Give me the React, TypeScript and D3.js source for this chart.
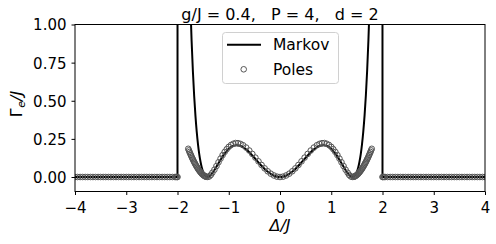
import React, { useEffect, useRef } from "react";
import * as d3 from "d3";

// Markov rate
const markovDelta = [
  -4, -2, -1.99, -1.9, -1.8, -1.75, -1.725, -1.7, -1.675, -1.65, -1.625, -1.6,
  -1.575, -1.55, -1.525, -1.5, -1.475, -1.45, -1.414, -1.375, -1.35, -1.3, -1.25, -1.2,
  -1.15, -1.1, -1.05, -1.0, -0.95, -0.9, -0.85, -0.8, -0.75, -0.7, -0.65, -0.6,
  -0.55, -0.5, -0.45, -0.4, -0.35, -0.3, -0.25, -0.2, -0.15, -0.1, -0.05, 0,
  0.05, 0.1, 0.15, 0.2, 0.25, 0.3, 0.35, 0.4, 0.45, 0.5, 0.55, 0.6,
  0.65, 0.7, 0.75, 0.8, 0.85, 0.9, 0.95, 1.0, 1.05, 1.1, 1.15, 1.2,
  1.25, 1.3, 1.35, 1.375, 1.414, 1.45, 1.475, 1.5, 1.525, 1.55, 1.575, 1.6,
  1.625, 1.65, 1.675, 1.7, 1.725, 1.75, 1.8, 1.9, 1.99, 2, 4,
];
const markovGamma = [
  0, 0, 24.37, 4.795, 1.829, 1.143, 0.8955, 0.6953, 0.5332, 0.4024, 0.2974, 0.2141,
  0.1488, 0.0985, 0.061, 0.034, 0.0159, 0.0051, 0, 0.005, 0.0125, 0.0342, 0.0613, 0.0903,
  0.1187, 0.1447, 0.167, 0.1848, 0.1977, 0.2055, 0.2084, 0.2067, 0.2006, 0.1908, 0.1779, 0.1624,
  0.1451, 0.1265, 0.1074, 0.0885, 0.0702, 0.0531, 0.0378, 0.0247, 0.0141, 0.0063, 0.0016, 0,
  0.0016, 0.0063, 0.0141, 0.0247, 0.0378, 0.0531, 0.0702, 0.0885, 0.1074, 0.1265, 0.1451, 0.1624,
  0.1779, 0.1908, 0.2006, 0.2067, 0.2084, 0.2055, 0.1977, 0.1848, 0.167, 0.1447, 0.1187, 0.0903,
  0.0613, 0.0342, 0.0125, 0.005, 0, 0.0051, 0.0159, 0.034, 0.061, 0.0985, 0.1488, 0.2141,
  0.2974, 0.4024, 0.5332, 0.6953, 0.8955, 1.143, 1.829, 4.795, 24.37, 0, 0,
];

// pole estimates, grey open circles
const polesDelta = [
  -4, -3.95, -3.9, -3.85, -3.8, -3.75, -3.7, -3.65, -3.6, -3.55, -3.5, -3.45, -3.4, -3.35, -3.3,
  -3.25, -3.2, -3.15, -3.1, -3.05, -3, -2.95, -2.9, -2.85, -2.8, -2.75, -2.7, -2.65, -2.6, -2.55,
  -2.5, -2.45, -2.4, -2.35, -2.3, -2.25, -2.2, -2.15, -2.1, -2.05, -2.03, -2.01, -2,
  -1.79, -1.7775, -1.765, -1.7525, -1.74, -1.7275, -1.715, -1.7025, -1.69, -1.6775, -1.665,
  -1.6525, -1.64, -1.6275, -1.615, -1.6025, -1.59, -1.5775, -1.565, -1.5525, -1.54, -1.5275,
  -1.515, -1.5025, -1.49, -1.4775, -1.465, -1.4525, -1.44,
  -1.41, -1.38, -1.35, -1.32, -1.28, -1.24, -1.2, -1.16, -1.12, -1.08,
  -1.04, -1.0, -0.955, -0.91, -0.865, -0.82, -0.77, -0.72, -0.66, -0.6, -0.54, -0.48, -0.42,
  -0.36, -0.3, -0.24, -0.18, -0.12, -0.06, 0,
  0.06, 0.12, 0.18, 0.24, 0.3, 0.36, 0.42, 0.48, 0.54, 0.6, 0.66, 0.72, 0.77, 0.82, 0.865,
  0.91, 0.955, 1.0, 1.04, 1.08, 1.12, 1.16, 1.2, 1.24, 1.28, 1.32, 1.35, 1.38, 1.41,
  1.44, 1.4525, 1.465, 1.4775, 1.49, 1.5025, 1.515, 1.5275, 1.54, 1.5525, 1.565, 1.5775,
  1.59, 1.6025, 1.615, 1.6275, 1.64, 1.6525, 1.665, 1.6775, 1.69, 1.7025, 1.715, 1.7275,
  1.74, 1.7525, 1.765, 1.7775, 1.79,
  2, 2.01, 2.03, 2.05, 2.1, 2.15, 2.2, 2.25, 2.3, 2.35, 2.4, 2.45, 2.5, 2.55, 2.6, 2.65, 2.7,
  2.75, 2.8, 2.85, 2.9, 2.95, 3, 3.05, 3.1, 3.15, 3.2, 3.25, 3.3, 3.35, 3.4, 3.45, 3.5, 3.55,
  3.6, 3.65, 3.7, 3.75, 3.8, 3.85, 3.9, 3.95, 4,
];
const polesGamma = [
  0, 0, 0, 0, 0, 0, 0, 0, 0, 0, 0, 0, 0, 0, 0,
  0, 0, 0, 0, 0, 0, 0, 0, 0, 0, 0, 0, 0, 0, 0,
  0, 0, 0, 0, 0, 0, 0, 0, 0, 0, 0, 0, 0,
  0.185, 0.1745, 0.164, 0.1543, 0.1445, 0.1351, 0.1259, 0.1169, 0.1083, 0.0999, 0.0918,
  0.084, 0.0764, 0.0692, 0.0623, 0.0556, 0.0493, 0.0433, 0.0376, 0.0323, 0.0273, 0.0226,
  0.0183, 0.0144, 0.0109, 0.0078, 0.0051, 0.003, 0.0013,
  0.0005, 0.0037, 0.0133, 0.028, 0.0478, 0.0719, 0.0966, 0.1209, 0.1437, 0.1644,
  0.1824, 0.1977, 0.2101, 0.2182, 0.2227, 0.2219, 0.2172, 0.2083, 0.1931, 0.1738, 0.1513, 0.1272, 0.1028,
  0.079, 0.0568, 0.0377, 0.0219, 0.0102, 0.0025, 0,
  0.0025, 0.0102, 0.0219, 0.0377, 0.0568, 0.079, 0.1028, 0.1272, 0.1513, 0.1738, 0.1931, 0.2083, 0.2172, 0.2219, 0.2227,
  0.2182, 0.2101, 0.1977, 0.1824, 0.1644, 0.1437, 0.1209, 0.0966, 0.0719, 0.0478, 0.028, 0.0133, 0.0037, 0.0005,
  0.0013, 0.003, 0.0051, 0.0078, 0.0109, 0.0144, 0.0183, 0.0226, 0.0273, 0.0323, 0.0376, 0.0433,
  0.0493, 0.0556, 0.0623, 0.0692, 0.0764, 0.084, 0.0918, 0.0999, 0.1083, 0.1169, 0.1259, 0.1351,
  0.1445, 0.1543, 0.164, 0.1745, 0.185,
  0, 0, 0, 0, 0, 0, 0, 0, 0, 0, 0, 0, 0, 0, 0, 0, 0,
  0, 0, 0, 0, 0, 0, 0, 0, 0, 0, 0, 0, 0, 0, 0, 0, 0, 0,
  0, 0, 0, 0, 0, 0, 0, 0, 0,
];

const xTicks = [-4, -3, -2, -1, 0, 1, 2, 3, 4];
const yTicks = [0, 0.25, 0.5, 0.75, 1.0];
const title = "g/J = 0.4,   P = 4,   d = 2";

const font = "DejaVu Sans, sans-serif";

const App = () => {
  const svgRef = useRef<SVGSVGElement>(null);

  useEffect(() => {
    const svg = d3.select(svgRef.current);
    svg.selectAll("*").remove();

    const left = 75, right = 485, top = 24.5, bottom = 191.5;
    const x = d3.scaleLinear().domain([-4, 4]).range([left, right]);
    const y = d3.scaleLinear().domain([-0.095, 1]).range([bottom, top]);

    svg
      .append("defs")
      .append("clipPath")
      .attr("id", "plotArea")
      .append("rect")
      .attr("x", left)
      .attr("y", top)
      .attr("width", right - left)
      .attr("height", bottom - top);

    const plot = svg.append("g").attr("clip-path", "url(#plotArea)");

    const line = d3
      .line<[number, number]>()
      .x((d) => x(d[0]))
      .y((d) => y(d[1]))
      .curve(d3.curveMonotoneX);

    plot
      .append("path")
      .datum(d3.zip(markovDelta, markovGamma) as [number, number][])
      .attr("d", line)
      .style("fill", "none")
      .style("stroke", "black")
      .style("stroke-width", 2);

    plot
      .selectAll("circle.pole")
      .data(d3.zip(polesDelta, polesGamma))
      .enter()
      .append("circle")
      .attr("class", "pole")
      .attr("cx", (d) => x(d[0]))
      .attr("cy", (d) => y(d[1]))
      .attr("r", 2.8)
      .style("fill", "none")
      .style("stroke", "#555")
      .style("stroke-width", 1);

    // frame
    svg
      .append("rect")
      .attr("x", left)
      .attr("y", top)
      .attr("width", right - left)
      .attr("height", bottom - top)
      .style("fill", "none")
      .style("stroke", "black")
      .style("stroke-width", 1);

    const xAxis = svg
      .append("g")
      .attr("transform", `translate(0, ${bottom})`)
      .call(
        d3
          .axisBottom(x)
          .tickValues(xTicks)
          .tickSize(3.5)
          .tickFormat((d) => d3.format("d")(d as number).replace("-", "\u2212"))
      );
    xAxis.select(".domain").remove();
    xAxis.selectAll("line").style("stroke", "black");
    xAxis
      .selectAll("text")
      .attr("y", 21)
      .attr("dy", 0)
      .style("font-family", font)
      .style("font-size", "15px")
      .style("fill", "black");

    const yAxis = svg
      .append("g")
      .attr("transform", `translate(${left}, 0)`)
      .call(
        d3
          .axisLeft(y)
          .tickValues(yTicks)
          .tickSize(3.5)
          .tickPadding(5)
          .tickFormat((d) => d3.format(".2f")(d as number))
      );
    yAxis.select(".domain").remove();
    yAxis.selectAll("line").style("stroke", "black");
    yAxis
      .selectAll("text")
      .attr("dy", "0.36em")
      .style("font-family", font)
      .style("font-size", "15px")
      .style("fill", "black");

    svg
      .append("text")
      .attr("x", (left + right) / 2)
      .attr("y", 20)
      .attr("text-anchor", "middle")
      .style("font-family", font)
      .style("font-size", "16px")
      .style("white-space", "pre")
      .text(title);

    svg
      .append("text")
      .attr("x", (left + right) / 2)
      .attr("y", 231)
      .attr("text-anchor", "middle")
      .style("font-family", font)
      .style("font-size", "16px")
      .style("font-style", "italic")
      .text("\u0394/J");

    const yLabel = svg
      .append("text")
      .attr("transform", "translate(21.5, 104) rotate(-90)")
      .attr("text-anchor", "middle")
      .style("font-family", font)
      .style("font-size", "16px");
    yLabel.append("tspan").text("\u0393");
    yLabel
      .append("tspan")
      .attr("dx", 0.5)
      .attr("dy", 3)
      .style("font-size", "11px")
      .style("font-style", "italic")
      .text("e");
    yLabel.append("tspan").attr("dy", -3).style("font-style", "italic").text("/J");

    // legend
    const legend = svg.append("g");
    legend
      .append("rect")
      .attr("x", 222.5)
      .attr("y", 32.5)
      .attr("width", 116)
      .attr("height", 51)
      .attr("rx", 3)
      .style("fill", "white")
      .style("fill-opacity", 0.8)
      .style("stroke", "#d0d0d0");
    legend
      .append("line")
      .attr("x1", 227)
      .attr("x2", 261)
      .attr("y1", 44.7)
      .attr("y2", 44.7)
      .style("stroke", "black")
      .style("stroke-width", 2);
    legend
      .append("circle")
      .attr("cx", 243.7)
      .attr("cy", 69.3)
      .attr("r", 2.8)
      .style("fill", "none")
      .style("stroke", "#555");
    legend
      .selectAll("text.entry")
      .data(["Markov", "Poles"])
      .enter()
      .append("text")
      .attr("class", "entry")
      .attr("x", 273)
      .attr("y", (d, i) => 50.3 + i * 24.5)
      .style("font-family", font)
      .style("font-size", "15.5px")
      .text((d) => d);
  }, []);

  return (
    <svg
      ref={svgRef}
      width={496}
      height={244}
      style={{ position: "absolute", left: 0, top: 0, background: "white" }}
    />
  );
};

export default App;
